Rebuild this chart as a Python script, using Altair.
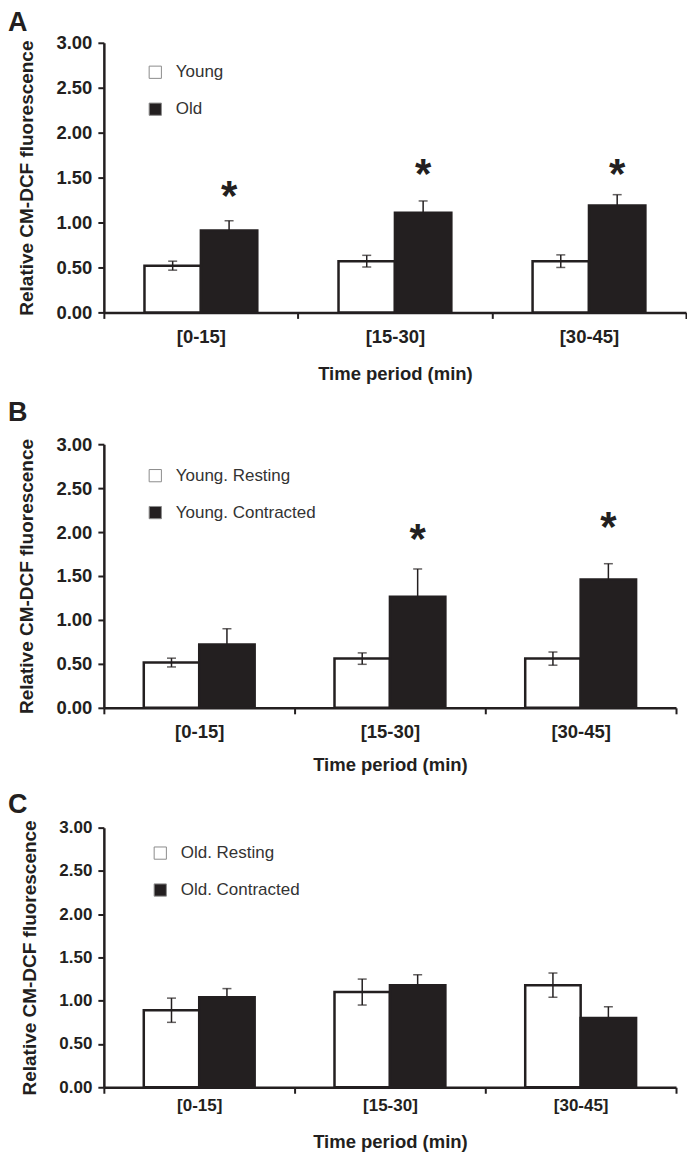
import altair as alt
import pandas as pd

periods = ["[0-15]", "[15-30]", "[30-45]"]

# Panel A
a_labels = ["Young", "Old"]
a_first = [0.52, 0.57, 0.57]
a_first_err = [0.05, 0.065, 0.07]
a_second = [0.91, 1.11, 1.19]
a_second_err = [0.11, 0.13, 0.12]
a_stars = [1.36, 1.61, 1.61]

# Panel B
b_labels = ["Young. Resting", "Young. Contracted"]
b_first = [0.515, 0.56, 0.56]
b_first_err = [0.05, 0.065, 0.075]
b_second = [0.72, 1.265, 1.46]
b_second_err = [0.18, 0.315, 0.18]
b_stars = [None, 1.99, 2.125]

# Panel C
c_labels = ["Old. Resting", "Old. Contracted"]
c_first = [0.89, 1.10, 1.18]
c_first_err = [0.14, 0.15, 0.14]
c_second = [1.04, 1.18, 0.80]
c_second_err = [0.10, 0.12, 0.13]
c_stars = [None, None, None]

y_ticks = [0, 0.5, 1.0, 1.5, 2.0, 2.5, 3.0]

FONT = "Liberation Sans"
INK = "#231f20"


def panel(letter, labels, first, first_err, second, second_err, stars,
          width, height, legend_x, legend_y, tick_fs, xlab_pad, xtitle_pad,
          letter_y):
    rows = []
    for i, p in enumerate(periods):
        rows.append({"period": p, "group": labels[0], "value": first[i],
                     "lo": first[i] - first_err[i], "hi": first[i] + first_err[i], "white": 1})
        rows.append({"period": p, "group": labels[1], "value": second[i],
                     "lo": second[i], "hi": second[i] + second_err[i], "white": 0})
    df = pd.DataFrame(rows)
    star_df = pd.DataFrame([{"period": p, "group": labels[1], "value": s}
                            for p, s in zip(periods, stars) if s is not None])

    x = alt.X("period:N", sort=periods,
              scale=alt.Scale(domain=periods, paddingInner=0, paddingOuter=0),
              axis=alt.Axis(title="Time period (min)", labelAngle=0, tickBand="extent",
                            tickSize=6, tickWidth=2, domainWidth=2.5,
                            domainColor=INK, tickColor=INK, labelColor=INK,
                            labelFont=FONT, labelFontSize=tick_fs, labelFontWeight="bold",
                            labelPadding=xlab_pad, titleFont=FONT, titleFontSize=18.5,
                            titleFontWeight="bold", titleColor=INK,
                            titlePadding=xtitle_pad))
    xo = alt.XOffset("group:N", sort=labels,
                     scale=alt.Scale(domain=labels, paddingInner=0, paddingOuter=0.72))
    y = alt.Y("value:Q",
              scale=alt.Scale(domain=[0, 3], nice=False, zero=True),
              axis=alt.Axis(values=y_ticks, format=".2f", grid=False,
                            tickSize=6, tickWidth=2, domainWidth=2.5,
                            domainColor=INK, tickColor=INK, labelColor=INK,
                            labelFont=FONT, labelFontSize=tick_fs, labelFontWeight="bold",
                            labelPadding=6, title="Relative CM-DCF fluorescence",
                            titleFont=FONT, titleFontSize=19, titleFontWeight="bold",
                            titleColor=INK, titlePadding=19))

    base = alt.Chart(df).encode(x=x, xOffset=xo)

    bars = base.mark_bar(stroke=INK, strokeWidth=2.5).encode(
        y=y,
        fill=alt.Fill("group:N", sort=labels,
                      scale=alt.Scale(domain=labels, range=["#ffffff", INK]),
                      legend=alt.Legend(title=None, orient="none", legendX=legend_x,
                                        legendY=legend_y, symbolType="square",
                                        symbolSize=150, symbolStrokeColor="#8c8c8c",
                                        symbolStrokeWidth=1, labelFont=FONT,
                                        labelFontSize=17, labelColor="#333333",
                                        rowPadding=19, labelOffset=12, padding=0)))
    err = base.mark_rule(color=INK, strokeWidth=1.5).encode(y="lo:Q", y2="hi:Q")
    cap_hi = base.mark_tick(color=INK, size=9, thickness=1.5).encode(y="hi:Q")
    cap_lo = base.transform_filter("datum.white == 1").mark_tick(
        color=INK, size=9, thickness=1.5).encode(y="lo:Q")

    layers = [bars, err, cap_hi, cap_lo]
    if len(star_df):
        star = alt.Chart(star_df).mark_text(
            text="*", font=FONT, fontSize=42, fontWeight="bold", color=INK,
            baseline="alphabetic", dy=20).encode(x=x, xOffset=xo, y="value:Q")
        layers.append(star)

    lab = alt.Chart(pd.DataFrame({"t": [letter]})).mark_text(
        align="left", baseline="alphabetic", font=FONT, fontSize=27,
        fontWeight="bold", color=INK).encode(
        text="t:N", x=alt.value(-96), y=alt.value(letter_y))
    layers.append(lab)

    return alt.layer(*layers).properties(width=width, height=height)


pa = panel("A", a_labels, a_first, a_first_err, a_second, a_second_err, a_stars,
           583, 270, 43, 21, 18.5, 9, 18.5, -12)
pb = panel("B", b_labels, b_first, b_first_err, b_second, b_second_err, b_stars,
           573, 264, 43, 23, 18.5, 9, 14.5, -23)
pc = panel("C", c_labels, c_first, c_first_err, c_second, c_second_err, c_stars,
           573, 260, 48, 17, 17, 4, 19, -15)

chart = alt.vconcat(pa, pb, pc, spacing=16).resolve_scale(
    fill="independent", xOffset="independent", x="independent", y="independent"
).resolve_legend(fill="independent").properties(
    padding=0, background="white"
).configure_view(stroke=None)

chart.save("out.html", embed_options={"renderer": "svg", "actions": False})
